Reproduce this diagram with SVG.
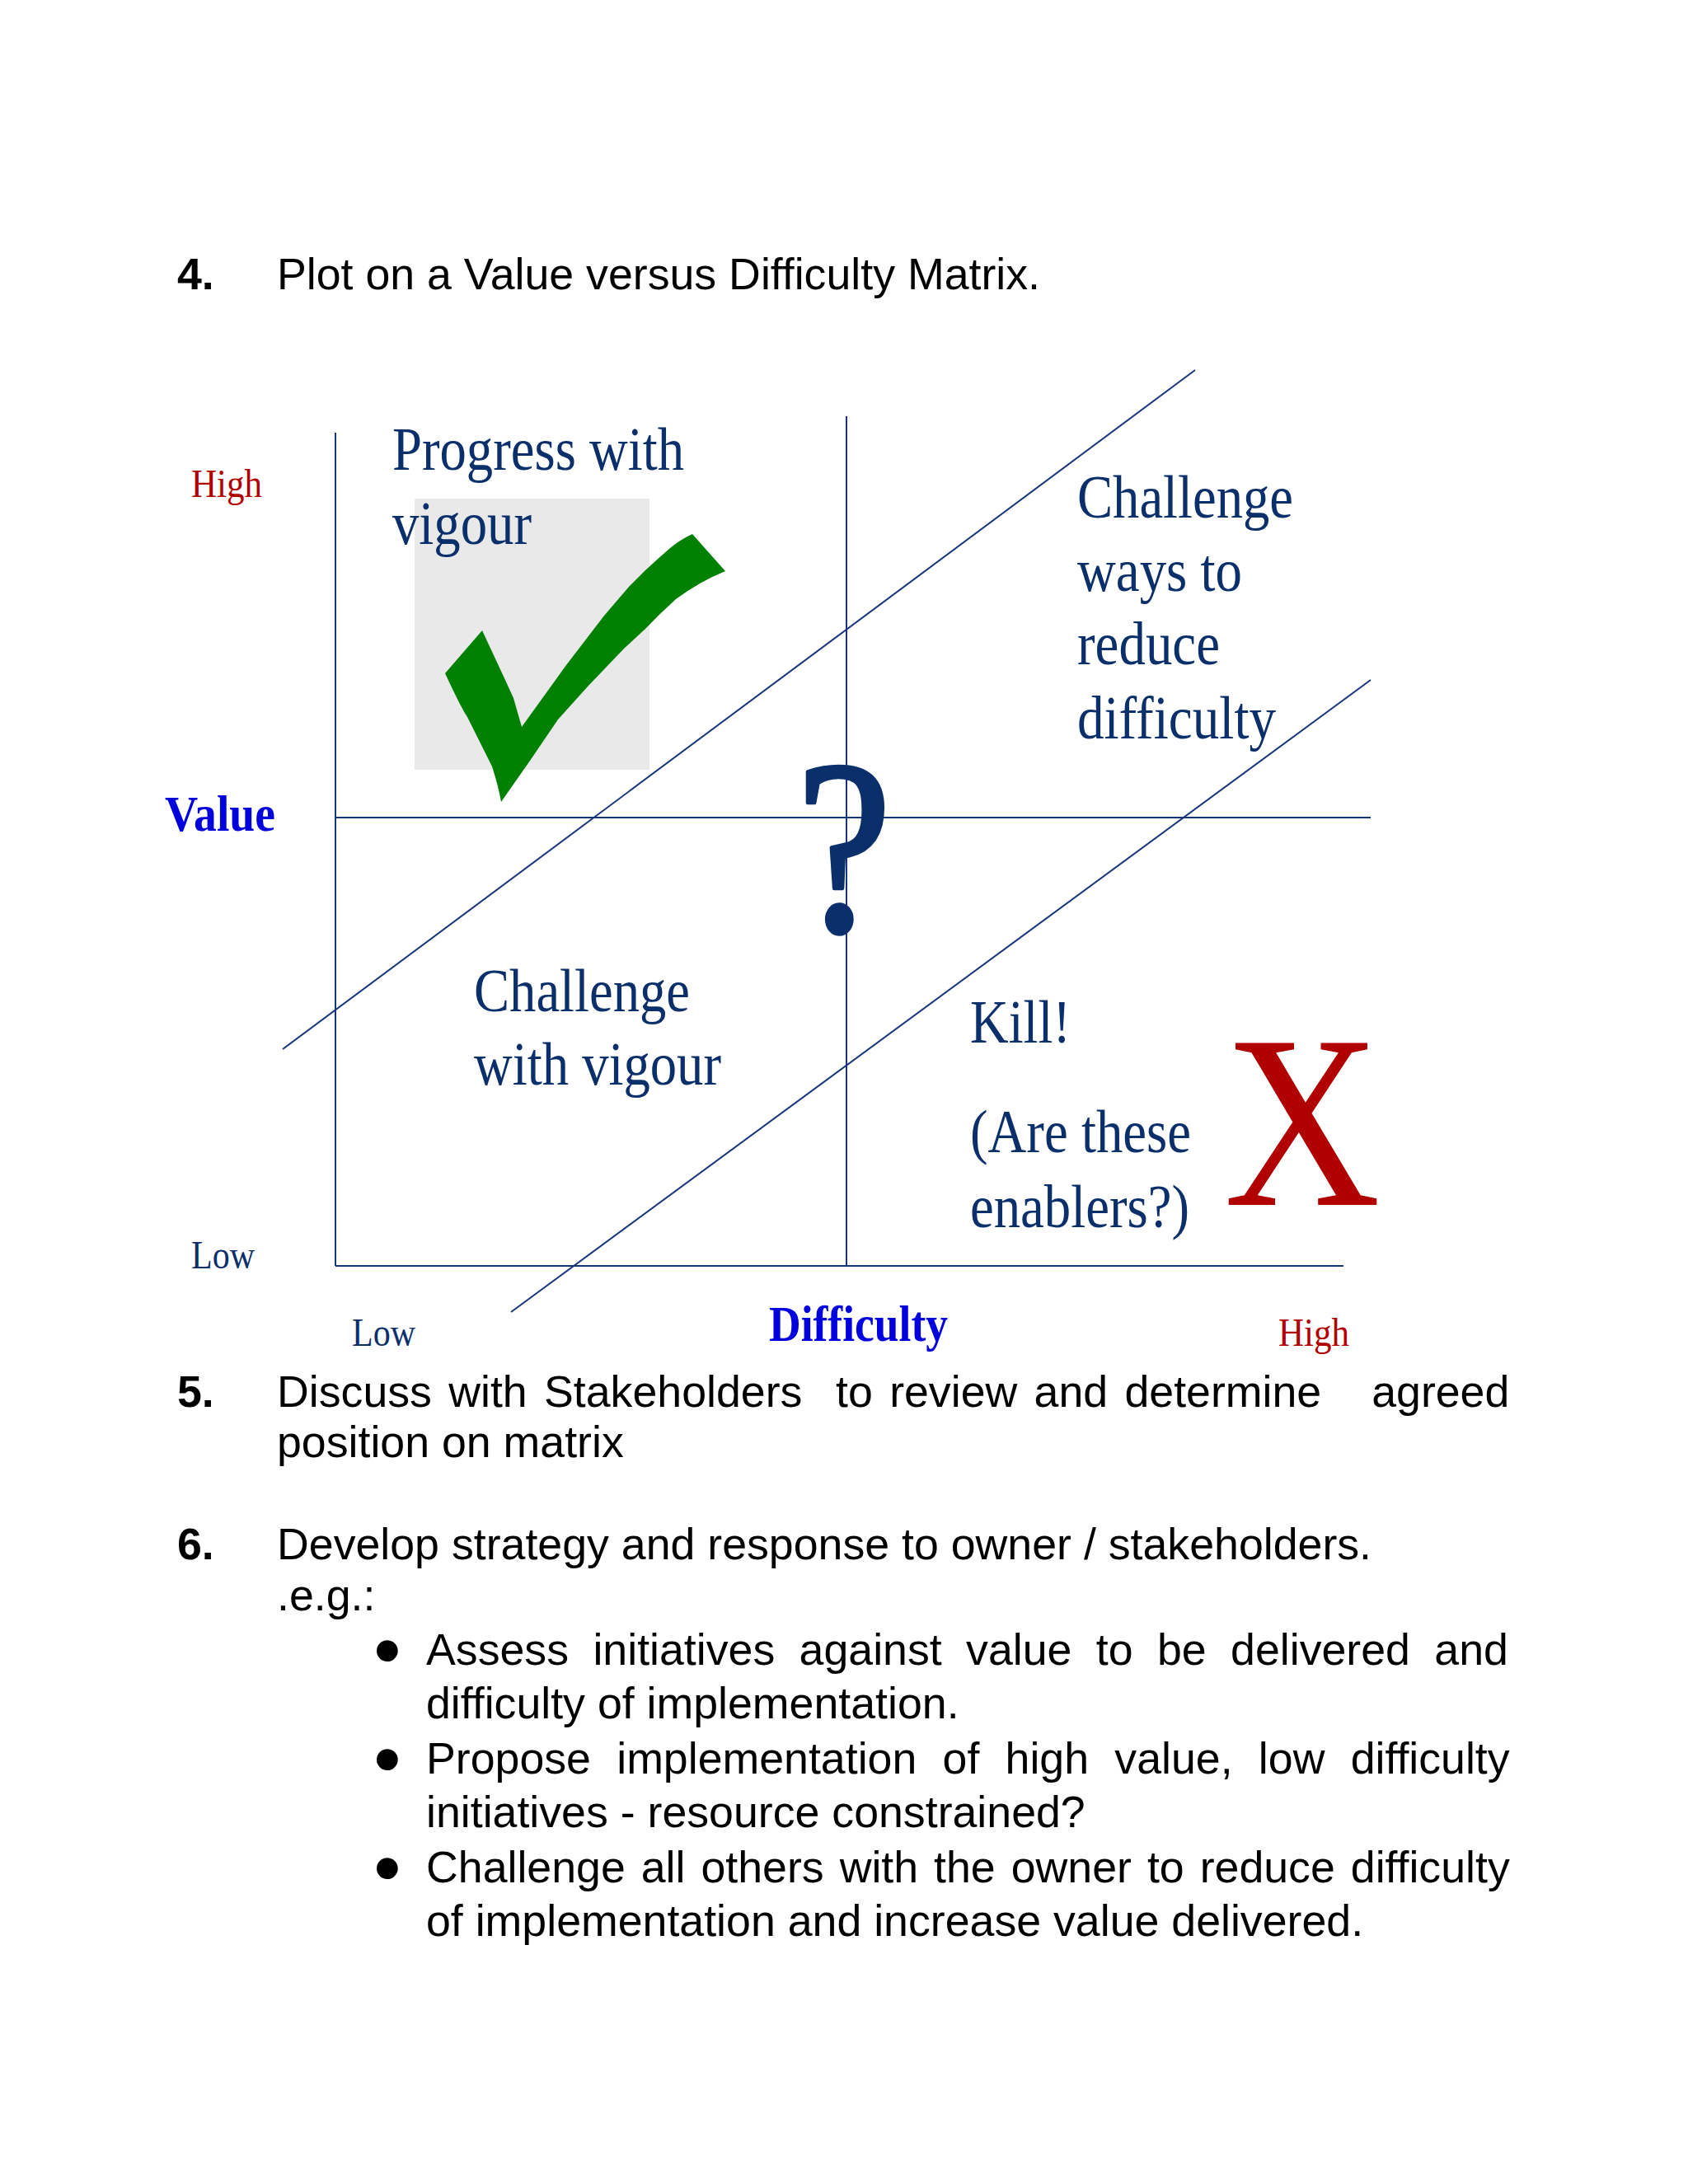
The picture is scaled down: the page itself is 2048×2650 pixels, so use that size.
<svg xmlns="http://www.w3.org/2000/svg" width="2048" height="2650" viewBox="0 0 2048 2650">
<style>
.body{font-family:"Liberation Sans",Arial,sans-serif;font-size:53.7px;fill:#000;font-variant-ligatures:none}
.num{font-weight:bold}
.bul{font-size:95px}
.ser{font-family:"Liberation Serif","Times New Roman",serif;fill:#0b2f6b}
.big{font-size:74px}
.lab{font-size:49px}
.red{fill:#b00000}
.blue{fill:#0000dd;font-weight:bold;font-size:61px}
.ln{stroke:#17357a;stroke-width:2;fill:none}
</style>
<rect width="2048" height="2650" fill="#fff"/>

<g id="step4">
<text class="body num" x="215" y="351">4.</text>
<text class="body" x="336" y="351">Plot on a Value versus Difficulty Matrix.</text>
</g>

<g id="matrix-lines">
<line class="ln" x1="407" y1="525" x2="407" y2="1536"/>
<line class="ln" x1="1027" y1="505" x2="1027" y2="1536"/>
<line class="ln" x1="407" y1="992" x2="1663" y2="992"/>
<line class="ln" x1="407" y1="1536" x2="1630" y2="1536"/>
<line class="ln" x1="343" y1="1273" x2="1450" y2="449"/>
<line class="ln" x1="620" y1="1592" x2="1663" y2="825"/>
</g>

<g id="quadrant-progress">
<rect x="503" y="605" width="285" height="329" fill="#e9e9ea"/>
<path d="M585,765 L540,817 Q560,860 567,870 L597,930 Q605,955 608,973 L643,923 L677,873 L713,833 L757,787 Q770,775 783,763 Q800,745 820,727 Q850,705 880,693 L840,648 Q825,655 813,665 Q798,678 783,692 L763,712 L733,747 L687,807 L633,882 L623,847 L612,823 Z" fill="#008000"/>
<text class="ser big" x="476" y="570" textLength="354" lengthAdjust="spacingAndGlyphs">Progress with</text>
<text class="ser big" x="476" y="660" textLength="169" lengthAdjust="spacingAndGlyphs">vigour</text>
</g>

<g id="quadrant-reduce">
<text class="ser big" x="1307" y="628" textLength="262" lengthAdjust="spacingAndGlyphs">Challenge</text>
<text class="ser big" x="1307" y="717" textLength="200" lengthAdjust="spacingAndGlyphs">ways to</text>
<text class="ser big" x="1307" y="806" textLength="173" lengthAdjust="spacingAndGlyphs">reduce</text>
<text class="ser big" x="1307" y="896" textLength="241" lengthAdjust="spacingAndGlyphs">difficulty</text>
</g>

<g id="question">
<text class="ser" x="1024" y="1129" font-size="300" text-anchor="middle" textLength="115" lengthAdjust="spacingAndGlyphs" stroke="#0b2f6b" stroke-width="5" stroke-linejoin="round">?</text>
</g>

<g id="quadrant-challenge">
<text class="ser big" x="575" y="1227" textLength="262" lengthAdjust="spacingAndGlyphs">Challenge</text>
<text class="ser big" x="575" y="1316" textLength="300" lengthAdjust="spacingAndGlyphs">with vigour</text>
</g>

<g id="quadrant-kill">
<text class="ser big" x="1177" y="1265" textLength="122" lengthAdjust="spacingAndGlyphs">Kill!</text>
<text class="ser big" x="1177" y="1398" textLength="268" lengthAdjust="spacingAndGlyphs">(Are these</text>
<text class="ser big" x="1177" y="1489" textLength="266" lengthAdjust="spacingAndGlyphs">enablers?)</text>
<text class="ser red" x="1580" y="1462" font-size="300" text-anchor="middle" textLength="190" lengthAdjust="spacingAndGlyphs" fill="#aa0000">X</text>
</g>

<g id="axis-labels">
<text class="ser lab red" x="232" y="603" textLength="86" lengthAdjust="spacingAndGlyphs">High</text>
<text class="ser blue" x="200" y="1008" textLength="134" lengthAdjust="spacingAndGlyphs">Value</text>
<text class="ser" x="232" y="1539" font-size="48" textLength="77" lengthAdjust="spacingAndGlyphs">Low</text>
<text class="ser" x="427" y="1633" font-size="48" textLength="77" lengthAdjust="spacingAndGlyphs">Low</text>
<text class="ser blue" x="933" y="1627" textLength="217" lengthAdjust="spacingAndGlyphs">Difficulty</text>
<text class="ser lab red" x="1551" y="1633" textLength="86" lengthAdjust="spacingAndGlyphs">High</text>
</g>

<g id="step5">
<text class="body num" x="215" y="1707">5.</text>
<text class="body" x="336" y="1707" style="white-space:pre" word-spacing="5.4">Discuss with Stakeholders  to review and determine   agreed</text>
<text class="body" x="336" y="1768">position on matrix</text>
</g>

<g id="step6">
<text class="body num" x="215" y="1892">6.</text>
<text class="body" x="336" y="1892">Develop strategy and response to owner / stakeholders.</text>
<text class="body" x="336" y="1954">.e.g.:</text>
<text class="body bul" x="470" y="2035" text-anchor="middle">•</text>
<text class="body" x="517" y="2020" word-spacing="14.46">Assess initiatives against value to be delivered and</text>
<text class="body" x="517" y="2085">difficulty of implementation.</text>
<text class="body bul" x="470" y="2167" text-anchor="middle">•</text>
<text class="body" x="517" y="2152" word-spacing="16.34">Propose implementation of high value, low difficulty</text>
<text class="body" x="517" y="2217">initiatives - resource constrained?</text>
<text class="body bul" x="470" y="2299" text-anchor="middle">•</text>
<text class="body" x="517" y="2284" word-spacing="4.06">Challenge all others with the owner to reduce difficulty</text>
<text class="body" x="517" y="2349">of implementation and increase value delivered.</text>
</g>
</svg>
